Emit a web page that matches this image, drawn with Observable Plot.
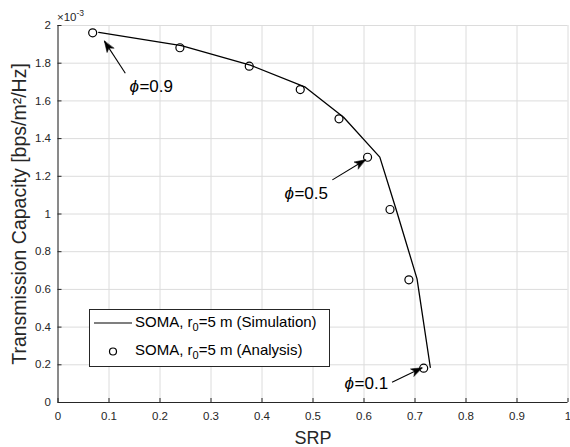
<!DOCTYPE html>
<html><head><meta charset="utf-8">
<script src="https://cdn.jsdelivr.net/npm/d3@7"></script>
<script src="https://cdn.jsdelivr.net/npm/@observablehq/plot@0.6"></script>
<style>
body{margin:0;background:#fff;font-family:"Liberation Sans",Arial,sans-serif;}
#wrap{position:relative;width:570px;height:447px;}
#exp{position:absolute;left:57px;top:8px;font-size:11.5px;color:#262626;}
#exp sup{font-size:8.5px;}
#legend{position:absolute;left:89px;top:309px;width:239px;height:56px;border:1px solid #262626;background:#fff;font-size:15px;color:#000;}
#legend .row{position:absolute;left:0;height:20px;line-height:20px;white-space:nowrap;}
#legend sub{font-size:11px;}
</style></head>
<body><div id="wrap"><div id="chart"></div>
<div id="exp">&times;10<sup>-3</sup></div>
<div id="legend">
 <svg width="239" height="56" style="position:absolute;left:0;top:0">
  <line x1="4" x2="42" y1="13" y2="13" stroke="#000" stroke-width="1.2"/>
  <circle cx="23" cy="41.5" r="3.5" fill="none" stroke="#000" stroke-width="1.2"/>
 </svg>
 <div class="row" style="left:45px;top:2px">SOMA, r<sub>0</sub>=5 m (Simulation)</div>
 <div class="row" style="left:45px;top:30px">SOMA, r<sub>0</sub>=5 m (Analysis)</div>
</div>
</div>
<script>
// Simulation (line)
const simSRP = [0.080, 0.242, 0.377, 0.485, 0.560, 0.631, 0.663, 0.704, 0.730];
const simTC  = [1.963, 1.893, 1.790, 1.673, 1.513, 1.302, 1.024, 0.656, 0.187]; // x1e-3
// Analysis (circles)
const anaSRP = [0.068, 0.239, 0.375, 0.475, 0.551, 0.607, 0.651, 0.688, 0.717];
const anaTC  = [1.961, 1.882, 1.784, 1.660, 1.505, 1.301, 1.024, 0.651, 0.182]; // x1e-3
// ticks
const xTicks = [0,0.1,0.2,0.3,0.4,0.5,0.6,0.7,0.8,0.9,1];
const yTicks = [0,0.2,0.4,0.6,0.8,1,1.2,1.4,1.6,1.8,2];
const xTickLabels = ["0","0.1","0.2","0.3","0.4","0.5","0.6","0.7","0.8","0.9","1"];
const yTickLabels = ["0","0.2","0.4","0.6","0.8","1","1.2","1.4","1.6","1.8","2"];
// annotations
const annLabel = ["=0.9","=0.5","=0.1"];
const annTextX = [0.140, 0.444, 0.562];
const annTextY = [1.676, 1.110, 0.099];
const annTailX = [0.132, 0.538, 0.655];
const annTailY = [1.747, 1.181, 0.108];
const annHeadX = [0.091, 0.603, 0.714];
const annHeadY = [1.917, 1.288, 0.184];

const W = 570, H = 447, mL = 57.5, mR = 2.5, mT = 25, mB = 45;
const pw = W - mL - mR, ph = H - mT - mB;
const axisColor = "#262626";

const sim = simSRP.map((x,i)=>({x, y: simTC[i]}));
const ana = anaSRP.map((x,i)=>({x, y: anaTC[i]}));
const ann = annLabel.map((t,i)=>({
  t, x: annTextX[i], y: annTextY[i], x1: annTailX[i], y1: annTailY[i], x2: annHeadX[i], y2: annHeadY[i],
  rot: Math.atan2((annHeadX[i]-annTailX[i]) * pw, (annHeadY[i]-annTailY[i]) * ph / 2) * 180 / Math.PI
}));

const headShape = {
  draw(context, l, r) {
    const L = 11, w = 4;
    context.moveTo(0, -l);
    context.lineTo(-w, -l + L);
    context.lineTo(0, -l + L * 0.75);
    context.lineTo(w, -l + L);
    context.closePath();
  }
};

const chart = Plot.plot({
  width: W, height: H,
  marginLeft: mL, marginRight: mR, marginTop: mT, marginBottom: mB,
  style: {fontFamily: '"Liberation Sans", Arial, sans-serif', color: axisColor, background: "#fff"},
  x: {domain: [0,1]},
  y: {domain: [0,2]},
  marks: [
    Plot.gridX(xTicks, {stroke: "#dcdcdc", strokeOpacity: 1}),
    Plot.gridY(yTicks, {stroke: "#dcdcdc", strokeOpacity: 1}),
    Plot.tickX(xTicks, {x: d=>d, insetTop: ph - 4, stroke: axisColor}),
    Plot.tickY(yTicks, {y: d=>d, insetRight: pw - 4, stroke: axisColor}),
    Plot.axisX(xTicks, {tickSize: 0, tickPadding: 9, fontSize: 11.5, label: null, tickFormat: (d,i)=>xTickLabels[i], fill: axisColor}),
    Plot.axisY(yTicks, {tickSize: 0, tickPadding: 7, fontSize: 11.5, label: null, tickFormat: (d,i)=>yTickLabels[i], fill: axisColor}),
    Plot.ruleY([0], {stroke: axisColor}),
    Plot.ruleX([0], {stroke: axisColor}),
    Plot.line(sim, {x: "x", y: "y", stroke: "#000", strokeWidth: 1.3}),
    Plot.dot(ana, {x: "x", y: "y", r: 4, stroke: "#000", strokeWidth: 1.2, fill: "none"}),
    Plot.link(ann, {x1: "x1", y1: "y1", x2: "x2", y2: "y2", stroke: "#000", strokeWidth: 1.1}),
    Plot.vector(ann, {x: "x2", y: "y2", rotate: "rot", length: 11, anchor: "end", shape: headShape, fill: "#000", stroke: "#000", strokeWidth: 0.5}),
    Plot.text(ann, {x: "x", y: "y", text: () => "\u03D5", textAnchor: "start", fontSize: 17, fontStyle: "italic", fill: "#000"}),
    Plot.text(ann, {x: "x", y: "y", text: "t", textAnchor: "start", dx: 10, fontSize: 17, fill: "#000"}),
    Plot.text(["SRP"], {frameAnchor: "bottom", lineAnchor: "middle", dy: 36, fontSize: 18, fill: axisColor}),
    Plot.text(["Transmission Capacity [bps/m\u00B2/Hz]"], {frameAnchor: "left", textAnchor: "middle", lineAnchor: "middle", rotate: -90, dx: -38, fontSize: 19.5, fill: axisColor})
  ]
});
document.getElementById("chart").appendChild(chart);
</script>
</body></html>
